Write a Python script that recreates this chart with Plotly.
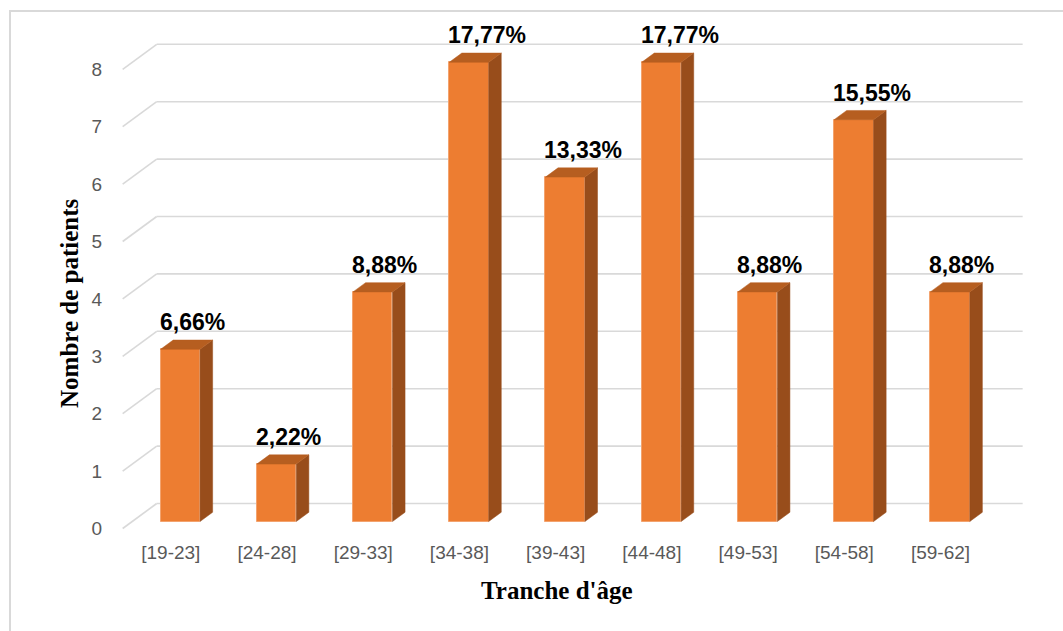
import plotly.graph_objects as go

# ---- data ----
categories = ["[19-23]", "[24-28]", "[29-33]", "[34-38]", "[39-43]",
              "[44-48]", "[49-53]", "[54-58]", "[59-62]"]
counts = [3, 1, 4, 8, 6, 8, 4, 7, 4]
pct_labels = ["6,66%", "2,22%", "8,88%", "17,77%", "13,33%",
              "17,77%", "8,88%", "15,55%", "8,88%"]
y_ticks = [0, 1, 2, 3, 4, 5, 6, 7, 8]

# ---- pseudo-3D geometry (in axis units) ----
DX = 0.3534   # depth offset along x (category units)
DY = 0.4355   # depth offset along y (value units)
D1, D2 = 0.28, 0.65   # bar front / back depth fraction
W = 0.41              # bar width

FRONT = "#ED7D31"
TOP = "#B65E20"
SIDE = "#984D1B"
GRID = "#D9D9D9"

xs = list(range(len(categories)))
fig = go.Figure()

# gridlines (back wall + left diagonal), below traces
shapes = []
for v in y_ticks:
    shapes.append(dict(type="line", xref="x", yref="y", layer="below",
                       x0=-0.5, y0=v, x1=-0.5 + DX, y1=v + DY,
                       line=dict(color=GRID, width=1.6)))
    shapes.append(dict(type="line", xref="x", yref="y", layer="below",
                       x0=-0.5 + DX, y0=v + DY, x1=len(categories) - 0.5 + DX, y1=v + DY,
                       line=dict(color=GRID, width=1.6)))

# chart border
shapes.append(dict(type="rect", xref="paper", yref="paper",
                   x0=-0.1218, y0=1.0176, x1=1.0576, y1=-0.2231,
                   line=dict(color="#D9D9D9", width=2), fillcolor="rgba(0,0,0,0)"))

# front faces
fx = [i + D1 * DX for i in xs]
fig.add_trace(go.Bar(x=fx, y=counts, base=D1 * DY, width=W,
                     marker=dict(color=FRONT, line=dict(color="#F3A36E", width=1)),
                     hoverinfo="skip", showlegend=False))

ddx = (D2 - D1) * DX
ddy = (D2 - D1) * DY
for i, v in zip(xs, counts):
    xc = i + D1 * DX
    xl, xr = xc - W / 2, xc + W / 2
    yb = D1 * DY
    yt = v + D1 * DY
    # side face
    fig.add_trace(go.Scatter(
        x=[xr, xr + ddx, xr + ddx, xr, xr],
        y=[yb, yb + ddy, yt + ddy, yt, yb],
        fill="toself", fillcolor=SIDE, mode="lines",
        line=dict(color=SIDE, width=0.5), hoverinfo="skip", showlegend=False))
    # top face
    fig.add_trace(go.Scatter(
        x=[xl, xr, xr + ddx, xl + ddx, xl],
        y=[yt, yt, yt + ddy, yt + ddy, yt],
        fill="toself", fillcolor=TOP, mode="lines",
        line=dict(color=TOP, width=0.5), hoverinfo="skip", showlegend=False))

annotations = []
for i, v, lab in zip(xs, counts, pct_labels):
    xc = i + D1 * DX
    annotations.append(dict(x=xc - W / 2, y=v + D1 * DY, xref="x", yref="y",
                            text=lab, showarrow=False, xanchor="left", yanchor="middle",
                            xshift=-3, yshift=27,
                            font=dict(family="Liberation Sans", size=23, color="#000000",
                                      weight="bold")))

annotations.append(dict(x=-0.0554, y=0.4462, xref="paper", yref="paper",
                        text="Nombre de patients", textangle=-90, showarrow=False,
                        xanchor="center", yanchor="middle",
                        font=dict(family="Liberation Serif", size=25, color="#000000",
                                  weight="bold")))
annotations.append(dict(x=0.4839, y=-0.1155, xref="paper", yref="paper",
                        text="Tranche d'âge", showarrow=False,
                        xanchor="center", yanchor="middle",
                        font=dict(family="Liberation Serif", size=25, color="#000000",
                                  weight="bold")))

fig.update_layout(
    width=1063, height=631,
    margin=dict(l=120, r=40, t=20, b=100),
    paper_bgcolor="white", plot_bgcolor="white",
    shapes=shapes, annotations=annotations,
    bargap=0,
    xaxis=dict(range=[-0.528, 8.857], tickvals=xs, ticktext=categories,
               showgrid=False, zeroline=False, showline=False, ticks="",
               ticklabelstandoff=8,
               tickfont=dict(family="Liberation Sans", size=19, color="#595959")),
    yaxis=dict(range=[-0.0436, 8.859], tickvals=y_ticks, ticktext=[str(t) for t in y_ticks],
               showgrid=False, zeroline=False, showline=False, ticks="",
               ticklabelstandoff=17,
               tickfont=dict(family="Liberation Sans", size=19, color="#595959")),
)

fig.write_html("out.html")
